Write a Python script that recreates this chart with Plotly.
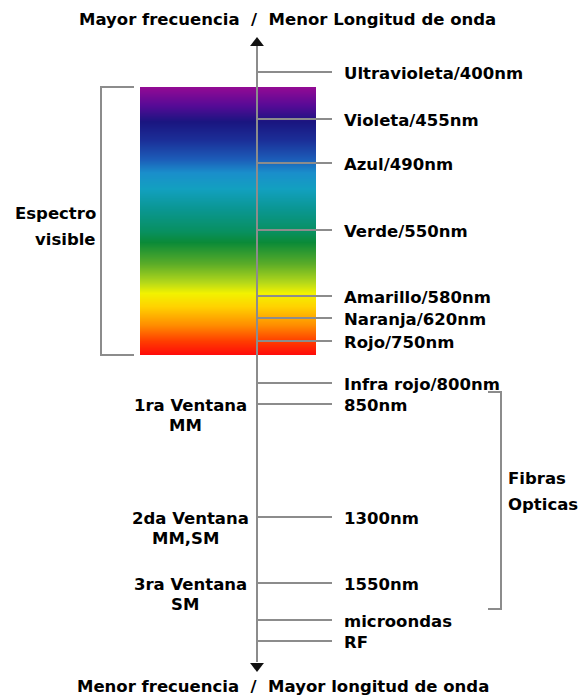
import numpy as np
import plotly.graph_objects as go

# ---- data (positions along the diagram's vertical scale, in scale units) ----
band_labels = ["Ultravioleta/400nm", "Violeta/455nm", "Azul/490nm", "Verde/550nm",
               "Amarillo/580nm", "Naranja/620nm", "Rojo/750nm", "Infra rojo/800nm",
               "850nm", "1300nm", "1550nm", "microondas", "RF"]
band_levels = [72, 119, 163, 230, 296, 318, 341, 383, 404, 517, 583, 620, 641]

window_names = ["1ra Ventana", "2da Ventana", "3ra Ventana"]
window_modes = ["MM", "MM,SM", "SM"]
window_levels = [404, 517, 583]

visible_range = [87, 355]      # extent of visible spectrum on the scale
fibre_range = [392, 609]       # extent of optical-fibre bracket

top_title = "Mayor frecuencia  /  Menor Longitud de onda"
bottom_title = "Menor frecuencia  /  Mayor longitud de onda"

spectrum_colors = [
    [0.00, "#940a94"], [0.07, "#560a96"], [0.13, "#1a1580"], [0.20, "#1b2f98"],
    [0.27, "#1c5cb8"], [0.32, "#1a8ecb"], [0.38, "#12a0c0"], [0.46, "#0a9690"],
    [0.54, "#089060"], [0.58, "#0a8a38"], [0.66, "#5aac28"], [0.73, "#b4d81a"],
    [0.77, "#f2f200"], [0.82, "#ffd200"], [0.89, "#ff8c00"], [0.95, "#ff3c00"],
    [1.00, "#ff0a0a"],
]

W, H = 584, 696
GRAY = "#8c8c8c"
AX_X = 257
FONT = dict(family="DejaVu Sans", size=16.5, color="#000000")

fig = go.Figure()

# spectrum gradient
n = 268
edges = np.linspace(visible_range[0], visible_range[1], n + 1)
centers = (edges[:-1] + edges[1:]) / 2
fig.add_trace(go.Heatmap(
    z=centers.reshape(-1, 1), x=[140, 316], y=edges,
    colorscale=spectrum_colors, showscale=False, hoverinfo="skip",
    zmin=visible_range[0], zmax=visible_range[1]))

# main axis
fig.add_trace(go.Scatter(x=[AX_X, AX_X], y=[46, 662], mode="lines",
                         line=dict(color=GRAY, width=2), hoverinfo="skip", showlegend=False))
fig.add_trace(go.Scatter(x=[AX_X], y=[43], mode="markers",
                         marker=dict(symbol="triangle-up", size=12, color="#111111"),
                         hoverinfo="skip", showlegend=False))
fig.add_trace(go.Scatter(x=[AX_X], y=[666], mode="markers",
                         marker=dict(symbol="triangle-down", size=12, color="#111111"),
                         hoverinfo="skip", showlegend=False))

# ticks
tx, ty = [], []
for lv in band_levels:
    tx += [AX_X, 332, None]
    ty += [lv, lv, None]
fig.add_trace(go.Scatter(x=tx, y=ty, mode="lines", line=dict(color=GRAY, width=2),
                         hoverinfo="skip", showlegend=False))

# brackets
fig.add_trace(go.Scatter(x=[134, 101, 101, 134],
                         y=[visible_range[0], visible_range[0], visible_range[1], visible_range[1]],
                         mode="lines", line=dict(color=GRAY, width=2),
                         hoverinfo="skip", showlegend=False))
fig.add_trace(go.Scatter(x=[488, 501, 501, 488],
                         y=[fibre_range[0], fibre_range[0], fibre_range[1], fibre_range[1]],
                         mode="lines", line=dict(color=GRAY, width=2),
                         hoverinfo="skip", showlegend=False))

ann = []
def txt(x, y, s, xa):
    ann.append(dict(x=x, y=y, text="<b>%s</b>" % s, xanchor=xa, yanchor="middle",
                    showarrow=False, font=FONT))

for lab, lv in zip(band_labels, band_levels):
    txt(342, lv + 1, lab, "left")
for name, mode, lv in zip(window_names, window_modes, window_levels):
    txt(190, lv + 1, name, "center")
    txt(185, lv + 21, mode, "center")
txt(98, 213, "Espectro", "right")
txt(98, 239, "visible", "right")
txt(506, 478, "Fibras", "left")
txt(506, 504, "Opticas", "left")
txt(287, 19, top_title, "center")
txt(283, 686, bottom_title, "center")

fig.update_layout(
    width=W, height=H, margin=dict(l=0, r=0, t=0, b=0),
    paper_bgcolor="white", plot_bgcolor="white",
    xaxis=dict(range=[0, W], visible=False, fixedrange=True),
    yaxis=dict(range=[H, 0], visible=False, fixedrange=True),
    annotations=ann, showlegend=False,
)
fig.write_html("out.html", config={"displayModeBar": False},
               post_script="document.body.style.margin='0';")
